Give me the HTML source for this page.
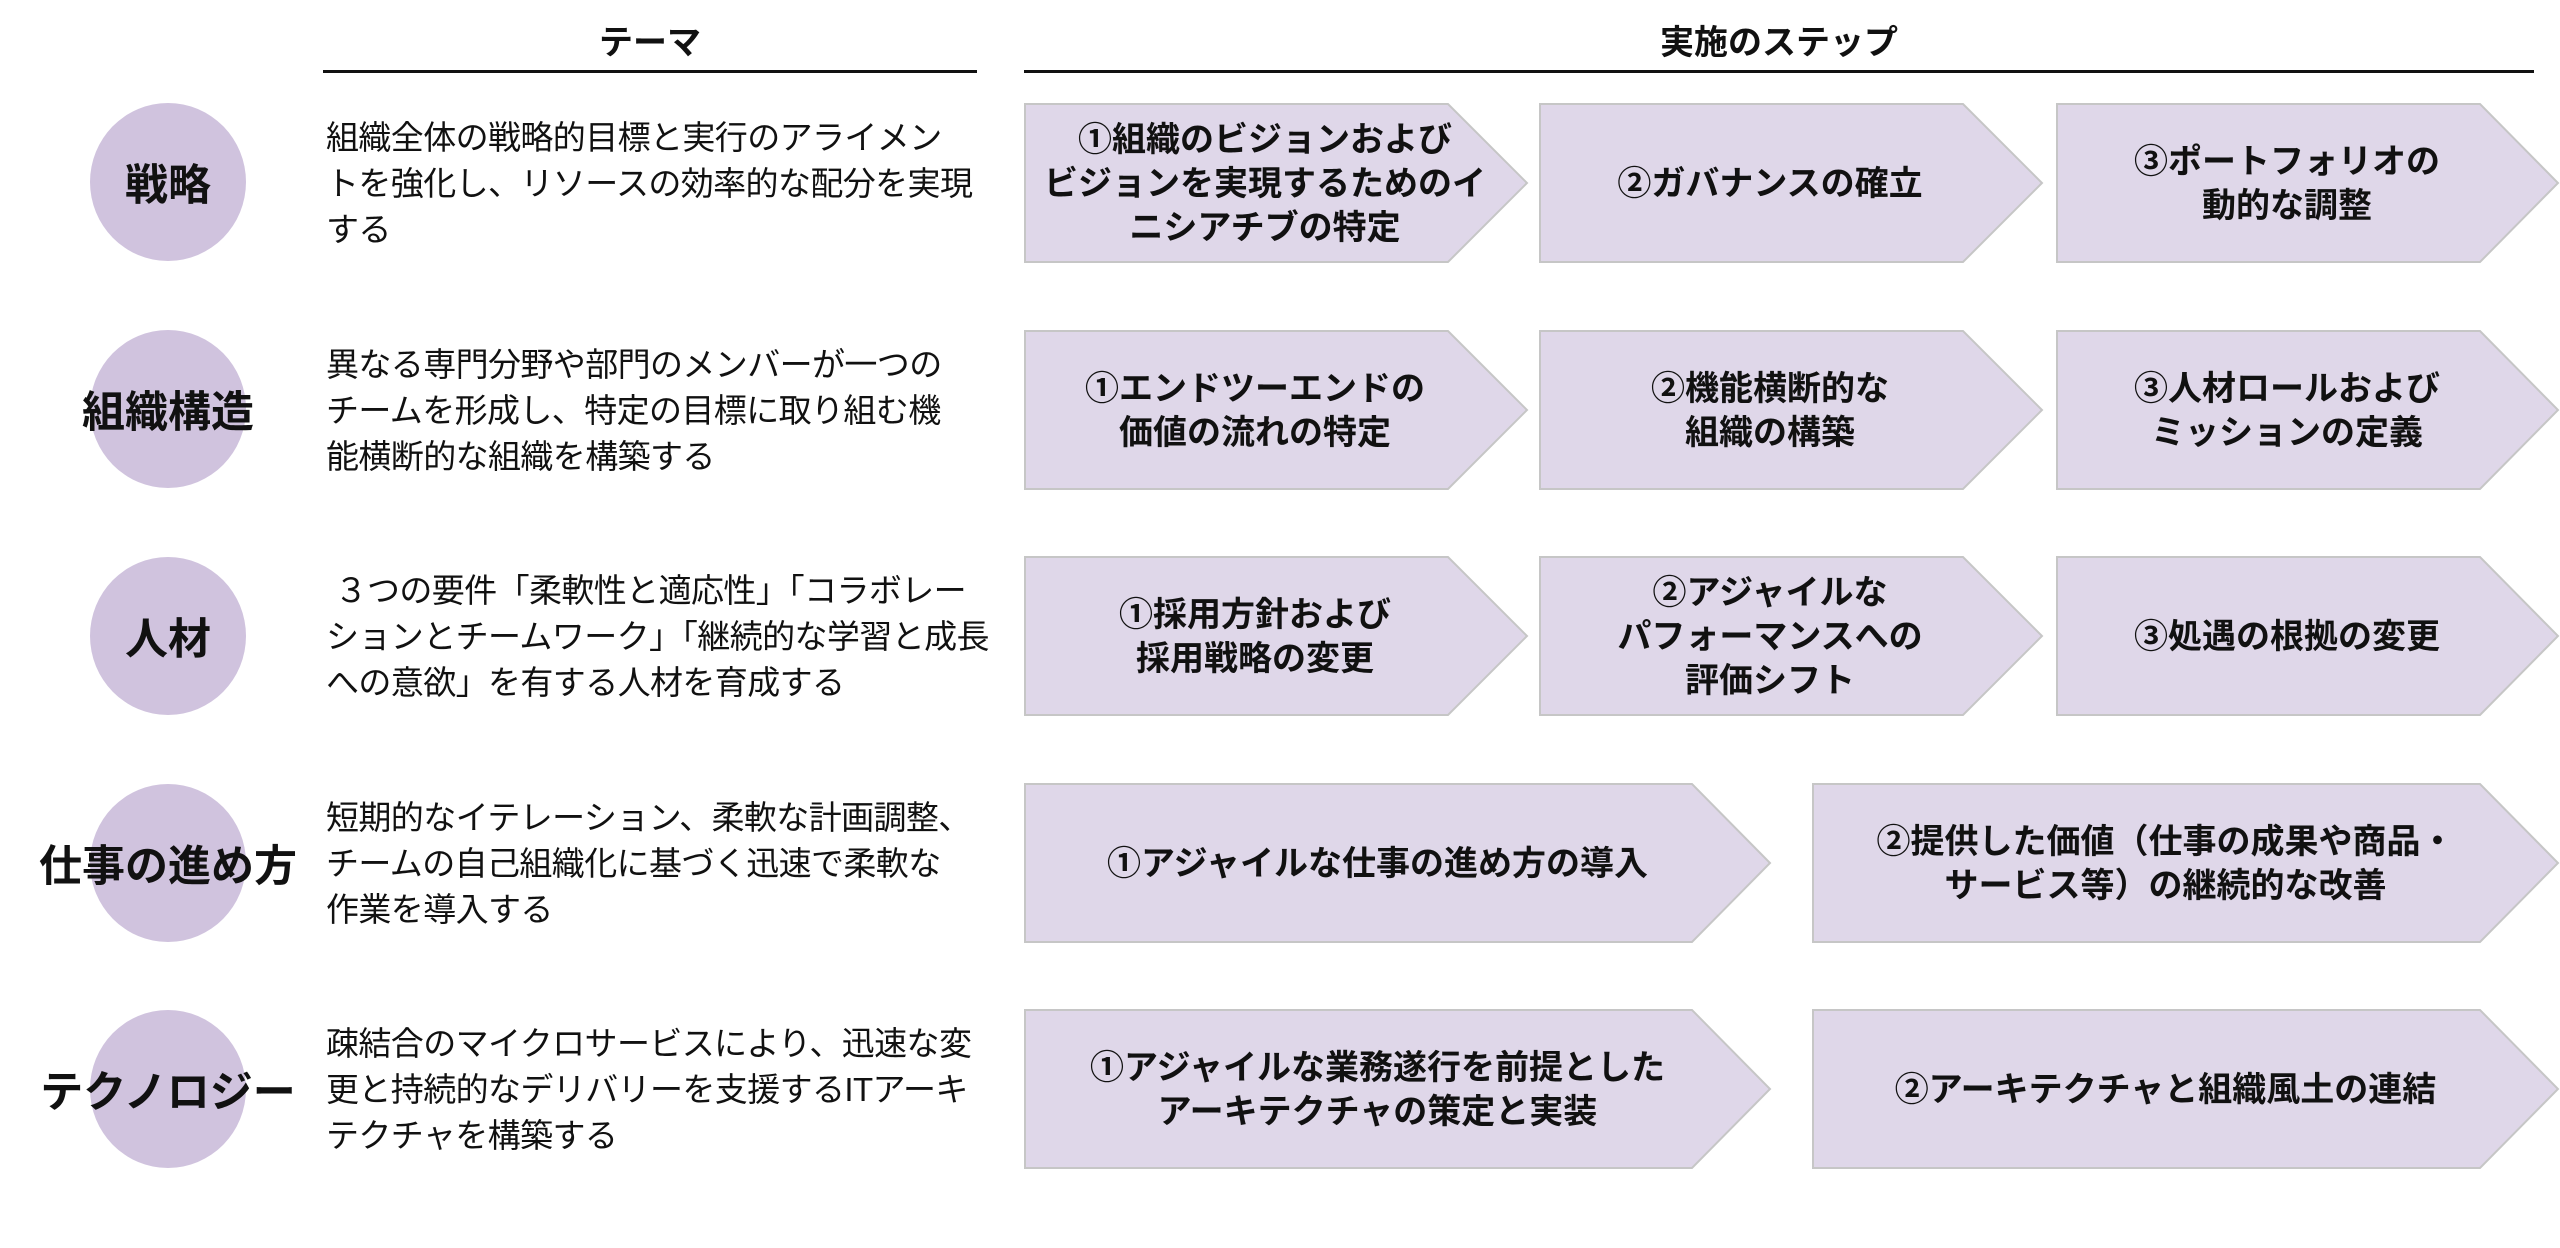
<!DOCTYPE html>
<html><head><meta charset="utf-8"><style>
body{margin:0;width:2560px;height:1248px;background:#fff;position:relative;overflow:hidden;font-family:"Liberation Sans","Noto Sans CJK JP",sans-serif;color:#111}
.h{position:absolute;top:20px;font-size:34px;font-weight:bold;text-align:center;line-height:46px}
.ul{position:absolute;top:70px;height:3px;background:#111}
.c{position:absolute;left:90px;width:156px;height:158px;border-radius:50%;background:#d0c3de;display:flex;align-items:center;justify-content:center;font-size:43px;font-weight:bold;white-space:nowrap}
.d{position:absolute;left:326px;width:680px;height:159px;display:flex;align-items:center;font-size:33px;letter-spacing:-0.6px;line-height:46px;white-space:nowrap}
.t{position:absolute;height:159px;display:flex;align-items:center;justify-content:center;text-align:center;font-size:34px;font-weight:bold;line-height:44px;white-space:nowrap}
svg{position:absolute;left:0;top:0}
</style></head><body>
<svg width="2560" height="1248">
<g fill="#dfd7e9" stroke="#c6c6c6" stroke-width="2">
<polygon points="1025,104 1448,104 1527,183 1448,262 1025,262"/>
<polygon points="1540,104 1963,104 2042,183 1963,262 1540,262"/>
<polygon points="2057,104 2480,104 2558,183 2480,262 2057,262"/>
<polygon points="1025,331 1448,331 1527,410 1448,489 1025,489"/>
<polygon points="1540,331 1963,331 2042,410 1963,489 1540,489"/>
<polygon points="2057,331 2480,331 2558,410 2480,489 2057,489"/>
<polygon points="1025,557 1448,557 1527,636 1448,715 1025,715"/>
<polygon points="1540,557 1963,557 2042,636 1963,715 1540,715"/>
<polygon points="2057,557 2480,557 2558,636 2480,715 2057,715"/>
<polygon points="1025,784 1692,784 1770,863 1692,942 1025,942"/>
<polygon points="1813,784 2480,784 2558,863 2480,942 1813,942"/>
<polygon points="1025,1010 1692,1010 1770,1089 1692,1168 1025,1168"/>
<polygon points="1813,1010 2480,1010 2558,1089 2480,1168 1813,1168"/>
</g></svg>
<div class="h" style="left:323px;width:654px">テーマ</div>
<div class="ul" style="left:323px;width:654px"></div>
<div class="h" style="left:1024px;width:1510px">実施のステップ</div>
<div class="ul" style="left:1024px;width:1510px"></div>

<div class="c" style="top:103px">戦略</div>
<div class="c" style="top:330px">組織構造</div>
<div class="c" style="top:557px">人材</div>
<div class="c" style="top:784px">仕事の進め方</div>
<div class="c" style="top:1010px">テクノロジー</div>

<div class="d" style="top:104px">組織全体の戦略的目標と実行のアライメン<br>トを強化し、リソースの効率的な配分を実現<br>する</div>
<div class="d" style="top:331px">異なる専門分野や部門のメンバーが一つの<br>チームを形成し、特定の目標に取り組む機<br>能横断的な組織を構築する</div>
<div class="d" style="top:557px">&nbsp;３つの要件「柔軟性と適応性」「コラボレー<br>ションとチームワーク」「継続的な学習と成長<br>への意欲」を有する人材を育成する</div>
<div class="d" style="top:784px">短期的なイテレーション、柔軟な計画調整、<br>チームの自己組織化に基づく迅速で柔軟な<br>作業を導入する</div>
<div class="d" style="top:1010px">疎結合のマイクロサービスにより、迅速な変<br>更と持続的なデリバリーを支援するITアーキ<br>テクチャを構築する</div>

<div class="t" style="left:1025px;width:480px;top:104px">①組織のビジョンおよび<br>ビジョンを実現するためのイ<br>ニシアチブの特定</div>
<div class="t" style="left:1540px;width:460px;top:104px">②ガバナンスの確立</div>
<div class="t" style="left:2057px;width:460px;top:104px">③ポートフォリオの<br>動的な調整</div>
<div class="t" style="left:1025px;width:460px;top:331px">①エンドツーエンドの<br>価値の流れの特定</div>
<div class="t" style="left:1540px;width:460px;top:331px">②機能横断的な<br>組織の構築</div>
<div class="t" style="left:2057px;width:460px;top:331px">③人材ロールおよび<br>ミッションの定義</div>
<div class="t" style="left:1025px;width:460px;top:557px">①採用方針および<br>採用戦略の変更</div>
<div class="t" style="left:1540px;width:460px;top:557px">②アジャイルな<br>パフォーマンスへの<br>評価シフト</div>
<div class="t" style="left:2057px;width:460px;top:557px">③処遇の根拠の変更</div>
<div class="t" style="left:1025px;width:705px;top:784px">①アジャイルな仕事の進め方の導入</div>
<div class="t" style="left:1813px;width:705px;top:784px">②提供した価値（仕事の成果や商品・<br>サービス等）の継続的な改善</div>
<div class="t" style="left:1025px;width:705px;top:1010px">①アジャイルな業務遂行を前提とした<br>アーキテクチャの策定と実装</div>
<div class="t" style="left:1813px;width:705px;top:1010px">②アーキテクチャと組織風土の連結</div>
</body></html>
